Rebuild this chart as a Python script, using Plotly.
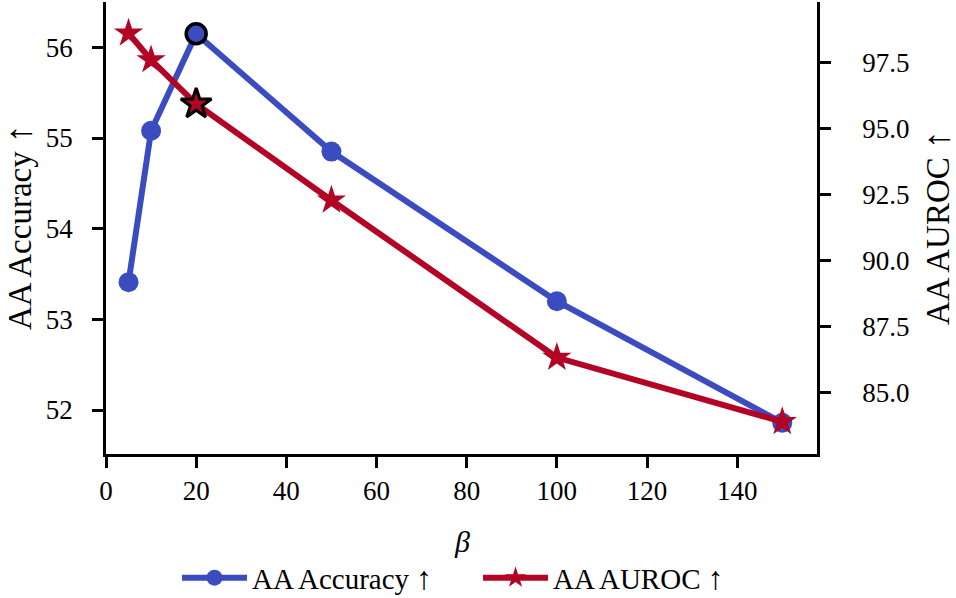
import plotly.graph_objects as go
import numpy as np

beta = [5, 10, 20, 50, 100, 150]
aa_accuracy = [53.41, 55.08, 56.15, 54.85, 53.20, 51.86]
aa_auroc = [98.60, 97.59, 95.92, 92.28, 86.33, 83.90]

x_ticks = [0, 20, 40, 60, 80, 100, 120, 140]
y_ticks = [52, 53, 54, 55, 56]
y2_ticks = [85.0, 87.5, 90.0, 92.5, 95.0, 97.5]

BLUE = "#3b4cc0"
RED = "#b40426"
FONT = "Liberation Serif"
ARROW = '<span style="font-size:1.1em">↑</span>'

best = int(np.argmax(aa_accuracy))

fig = go.Figure()
fig.add_trace(go.Scatter(
    x=beta, y=aa_accuracy, mode="lines+markers", name="AA Accuracy " + ARROW,
    line=dict(color=BLUE, width=6),
    marker=dict(symbol="circle", size=20, color=BLUE),
    yaxis="y"))
fig.add_trace(go.Scatter(
    x=beta, y=aa_auroc, mode="lines+markers", name="AA AUROC " + ARROW,
    line=dict(color=RED, width=6),
    marker=dict(symbol="star", size=22, color=RED),
    yaxis="y2"))
# highlighted best configuration
fig.add_trace(go.Scatter(
    x=[beta[best]], y=[aa_accuracy[best]], mode="markers", showlegend=False,
    marker=dict(symbol="circle", size=20, color=BLUE, line=dict(color="black", width=3.5)),
    yaxis="y"))
fig.add_trace(go.Scatter(
    x=[beta[best]], y=[aa_auroc[best]], mode="markers", showlegend=False,
    marker=dict(symbol="star", size=23, color=RED, line=dict(color="black", width=3)),
    yaxis="y2"))

axis_common = dict(
    showgrid=False, zeroline=False, showline=True, linecolor="black", linewidth=2.5,
    ticks="outside", ticklen=11, tickwidth=2.5, tickcolor="black", automargin=False,
    tickfont=dict(family=FONT, size=27, color="black"),
)

fig.update_layout(
    width=956, height=598,
    margin=dict(l=106, r=139, t=2, b=144, autoexpand=False),
    paper_bgcolor="white", plot_bgcolor="white",
    font=dict(family=FONT, color="black"),
    xaxis=dict(range=[0, 157.7], tickvals=x_ticks, **axis_common),
    yaxis=dict(range=[51.515, 56.5], tickvals=y_ticks, ticklabelstandoff=14, **axis_common),
    yaxis2=dict(range=[82.68, 99.78], tickvals=y2_ticks, tickformat=".1f", overlaying="y",
                side="right", ticklabelstandoff=26, **axis_common),
    legend=dict(orientation="h", x=0.0999, xanchor="left", y=-0.274, yanchor="middle",
                font=dict(family=FONT, size=29, color="black"), bgcolor="rgba(0,0,0,0)",
                itemwidth=65, entrywidth=221, entrywidthmode="pixels"),
    showlegend=True,
    annotations=[
        dict(text="AA Accuracy " + ARROW, xref="paper", yref="paper", x=0, y=0.5,
             xanchor="center", yanchor="middle", xshift=-87, textangle=-90, showarrow=False,
             font=dict(family=FONT, size=33, color="black")),
        dict(text="AA AUROC " + ARROW, xref="paper", yref="paper", x=1, y=0.5,
             xanchor="center", yanchor="middle", xshift=120, textangle=-90, showarrow=False,
             font=dict(family=FONT, size=33, color="black")),
        dict(text="<i>β</i>", xref="paper", yref="paper", x=0.5, y=0,
             xanchor="center", yanchor="middle", yshift=-87, showarrow=False,
             font=dict(family=FONT, size=30, color="black")),
    ],
)

fig.write_html("out.html")
